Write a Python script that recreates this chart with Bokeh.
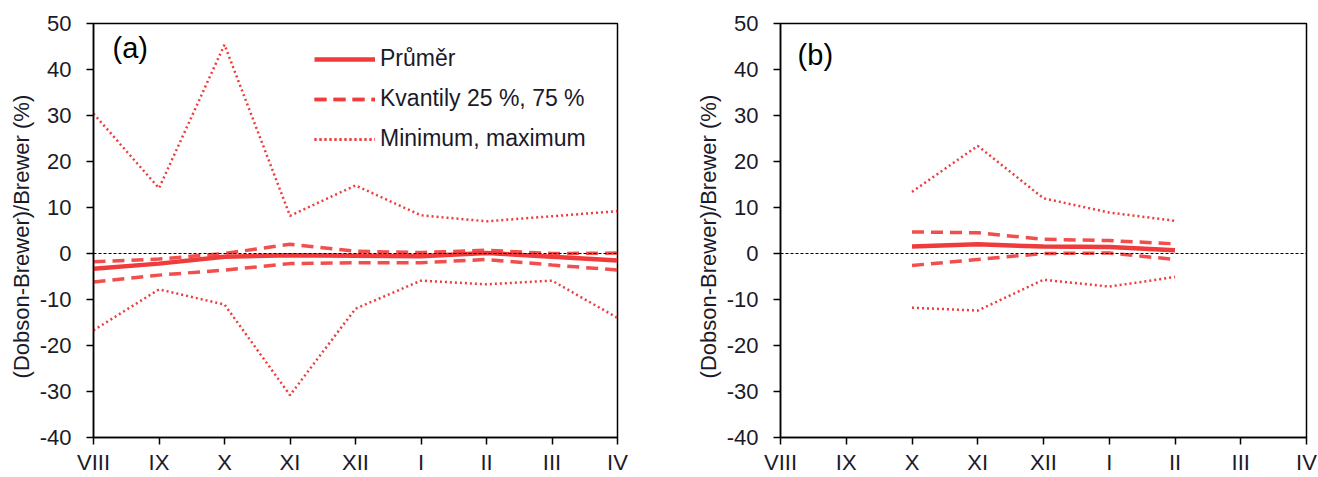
from bokeh.plotting import figure
from bokeh.layouts import row
from bokeh.models import Range1d, FixedTicker, Span, Label, Legend, LegendItem
from bokeh.embed import file_html
from bokeh.resources import INLINE

# ---- data ----
months = ["VIII", "IX", "X", "XI", "XII", "I", "II", "III", "IV"]
y_ticks = [-40, -30, -20, -10, 0, 10, 20, 30, 40, 50]

# panel (a): all months VIII..IV
a_mean = [-3.3, -2.2, -0.7, -0.4, -0.5, -0.6, 0.1, -0.7, -1.5]
a_q25 = [-6.2, -4.7, -3.6, -2.2, -2.0, -2.0, -1.3, -2.5, -3.6]
a_q75 = [-1.8, -1.2, 0.0, 2.0, 0.5, 0.2, 0.7, 0.0, 0.1]
a_min = [-16.7, -7.8, -11.1, -30.8, -12.0, -5.9, -6.7, -5.9, -14.0]
a_max = [30.4, 14.2, 45.4, 8.2, 14.8, 8.3, 7.0, 8.1, 9.2]

# panel (b): months X..II
b_months = ["X", "XI", "XII", "I", "II"]
b_mean = [1.5, 2.0, 1.5, 1.4, 0.7]
b_q25 = [-2.6, -1.3, 0.0, 0.1, -1.3]
b_q75 = [4.7, 4.5, 3.1, 2.8, 2.1]
b_min = [-11.8, -12.4, -5.7, -7.2, -5.1]
b_max = [13.4, 23.4, 12.0, 8.9, 7.1]

legend_labels = ["Průměr", "Kvantily 25 %, 75 %", "Minimum, maximum"]

RED = "#ef3b3b"
FONT = "Liberation Sans"
TXT = "#1a1a2a"
idx = {m: i for i, m in enumerate(months)}


def make_panel(width, bl, br, bt, bb, label_text, lab_x, lab_y, xm, mean, q25, q75, mn, mx, legend):
    p = figure(width=width, height=477, output_backend="svg", toolbar_location=None,
               x_range=Range1d(0, len(months) - 1), y_range=Range1d(-40, 50),
               min_border_left=bl, min_border_right=br, min_border_top=bt, min_border_bottom=bb)
    p.grid.visible = False
    p.outline_line_color = "black"
    p.outline_line_width = 1.5
    p.background_fill_color = "white"
    p.border_fill_color = "white"

    x = [idx[m] for m in xm]

    p.add_layout(Span(location=0, dimension="width", line_color="black",
                      line_width=1, line_dash="3 2"))

    r_max = p.line(x, mx, line_color=RED, line_width=2.5, line_dash="2 3")
    r_min = p.line(x, mn, line_color=RED, line_width=2.5, line_dash="2 3")
    r_q25 = p.line(x, q25, line_color=RED, line_width=3.5, line_dash="12 7", line_alpha=0.9)
    r_q75 = p.line(x, q75, line_color=RED, line_width=3.5, line_dash="12 7", line_alpha=0.9)
    r_mean = p.line(x, mean, line_color=RED, line_width=4.5)

    # axes
    xa = p.xaxis[0]
    xa.ticker = FixedTicker(ticks=list(range(len(months))))
    xa.major_label_overrides = {i: m for i, m in enumerate(months)}
    ya = p.yaxis[0]
    ya.ticker = FixedTicker(ticks=y_ticks)
    ya.major_label_overrides = {t: str(t) for t in y_ticks}
    for ax in (xa, ya):
        ax.axis_line_color = "black"
        ax.axis_line_width = 1.5
        ax.major_tick_line_color = "black"
        ax.major_tick_line_width = 1.5
        ax.major_tick_in = 0
        ax.major_tick_out = 7
        ax.minor_tick_line_color = None
        ax.major_label_text_font = FONT
        ax.major_label_text_font_size = "22px"
        ax.major_label_text_color = TXT
    xa.major_label_standoff = 5
    ya.major_label_standoff = 15
    ya.axis_label = "(Dobson-Brewer)/Brewer   (%)"
    ya.axis_label_text_font = FONT
    ya.axis_label_text_font_size = "22px"
    ya.axis_label_text_font_style = "normal"
    ya.axis_label_text_color = TXT
    ya.axis_label_standoff = 3

    p.add_layout(Label(x=lab_x, y=lab_y, text=label_text, text_font=FONT,
                       text_font_size="29px", text_baseline="middle", text_color="black"))

    if legend:
        lg = Legend(items=[LegendItem(label=legend_labels[0], renderers=[r_mean]),
                           LegendItem(label=legend_labels[1], renderers=[r_q25, r_q75]),
                           LegendItem(label=legend_labels[2], renderers=[r_max, r_min])],
                    location=(221, 285), orientation="vertical",
                    glyph_width=61, glyph_height=26, label_height=26, spacing=13,
                    label_standoff=5, padding=0, margin=0,
                    label_text_font=FONT, label_text_font_size="23px",
                    label_text_color=TXT,
                    border_line_color=None, background_fill_alpha=0)
        p.add_layout(lg, "center")
    return p


pa = make_panel(660, 93, 43, 23, 38, "(a)", 0.29, 44.6,
                months, a_mean, a_q25, a_q75, a_min, a_max, True)
pb = make_panel(658, 120, 12, 21, 39, "(b)", 0.26, 43.1,
                b_months, b_mean, b_q25, b_q75, b_min, b_max, False)

layout = row(pa, pb)
open("out.html", "w").write(file_html(layout, INLINE))
